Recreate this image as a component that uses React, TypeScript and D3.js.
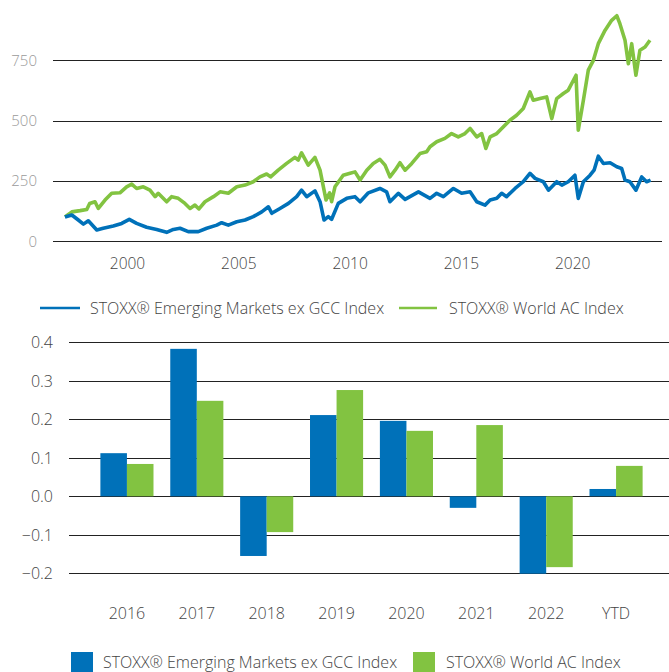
import React from "react";
import * as d3 from "d3";

const seriesNames = ["STOXX® Emerging Markets ex GCC Index", "STOXX® World AC Index"];
const colors = ["#0071B9", "#82C341"];

// Line chart data: [decimal year, index level]
const emergingLine: [number, number][] = [
  [1997.19, 100], [1997.5, 108], [1997.79, 87], [1998.02, 70], [1998.24, 84], [1998.62, 46],
  [1998.91, 53], [1999.36, 62], [1999.74, 73], [2000.08, 90], [2000.41, 73], [2000.86, 57],
  [2001.31, 48], [2001.76, 36], [2002.06, 48], [2002.36, 53], [2002.73, 39], [2003.18, 39],
  [2003.56, 53], [2004.01, 66], [2004.23, 76], [2004.53, 66], [2004.91, 80], [2005.28, 87],
  [2005.65, 101], [2006.03, 121], [2006.33, 142], [2006.48, 115], [2006.85, 135], [2007.23, 156],
  [2007.6, 184], [2007.82, 211], [2008.05, 184], [2008.42, 208], [2008.65, 163], [2008.83, 87],
  [2009.02, 101], [2009.17, 90], [2009.47, 156], [2009.85, 177], [2010.22, 184], [2010.45, 163],
  [2010.82, 200], [2011.34, 218], [2011.64, 204], [2011.79, 163], [2012.17, 198], [2012.47, 173],
  [2013.07, 204], [2013.59, 177], [2013.89, 198], [2014.19, 184], [2014.64, 218], [2015.01, 198],
  [2015.39, 204], [2015.69, 163], [2016.06, 149], [2016.29, 170], [2016.59, 177], [2016.81, 198],
  [2017.03, 184], [2017.41, 218], [2017.78, 246], [2018.08, 281], [2018.31, 260], [2018.68, 246],
  [2018.91, 211], [2019.28, 246], [2019.51, 232], [2019.8, 246], [2020.1, 273], [2020.25, 177],
  [2020.48, 246], [2020.78, 273], [2020.96, 294], [2021.15, 352], [2021.38, 322], [2021.68, 325],
  [2021.98, 308], [2022.2, 301], [2022.35, 253], [2022.57, 246], [2022.84, 211], [2023.1, 266],
  [2023.32, 246], [2023.5, 253],
];

const worldLine: [number, number][] = [
  [1997.19, 100], [1997.5, 121], [1997.87, 126], [1998.17, 131], [1998.3, 156], [1998.54, 163],
  [1998.69, 135], [1998.99, 170], [1999.29, 198], [1999.66, 200], [1999.96, 225], [2000.19, 236],
  [2000.41, 218], [2000.71, 225], [2001.01, 211], [2001.24, 184], [2001.38, 198], [2001.76, 163],
  [2001.98, 184], [2002.28, 177], [2002.58, 156], [2002.81, 135], [2003.03, 149], [2003.21, 133],
  [2003.48, 163], [2003.86, 184], [2004.16, 204], [2004.53, 198], [2004.91, 225], [2005.28, 232],
  [2005.65, 246], [2005.95, 266], [2006.25, 278], [2006.43, 266], [2006.77, 294], [2007.15, 322],
  [2007.52, 347], [2007.67, 336], [2007.82, 366], [2008.12, 315], [2008.42, 347], [2008.65, 294],
  [2008.8, 225], [2008.92, 170], [2009.08, 200], [2009.17, 163], [2009.32, 225], [2009.69, 273],
  [2010.0, 281], [2010.22, 287], [2010.45, 253], [2010.75, 294], [2011.04, 322], [2011.34, 339],
  [2011.57, 315], [2011.79, 266], [2012.02, 294], [2012.24, 325], [2012.47, 294], [2012.77, 322],
  [2013.14, 363], [2013.44, 370], [2013.59, 391], [2013.89, 412], [2014.26, 426], [2014.56, 446],
  [2014.86, 432], [2015.16, 446], [2015.39, 467], [2015.69, 432], [2015.91, 446], [2016.1, 384],
  [2016.29, 432], [2016.59, 446], [2016.81, 467], [2017.18, 501], [2017.48, 522], [2017.78, 550],
  [2018.08, 619], [2018.23, 584], [2018.53, 591], [2018.83, 598], [2019.06, 508], [2019.28, 591],
  [2019.58, 612], [2019.8, 626], [2020.15, 688], [2020.25, 460], [2020.48, 584], [2020.7, 709],
  [2020.93, 750], [2021.15, 819], [2021.45, 874], [2021.75, 916], [2021.98, 935], [2022.12, 902],
  [2022.35, 833], [2022.5, 736], [2022.65, 819], [2022.84, 688], [2023.02, 792], [2023.25, 805],
  [2023.47, 833],
];

const lineYTicks = [0, 250, 500, 750];
const lineXTicks = [2000, 2005, 2010, 2015, 2020];

// Bar chart data
const barCategories = ["2016", "2017", "2018", "2019", "2020", "2021", "2022", "YTD"];
const emergingReturns = [0.112, 0.383, -0.155, 0.211, 0.196, -0.030, -0.201, 0.019];
const worldReturns = [0.084, 0.248, -0.093, 0.276, 0.170, 0.185, -0.184, 0.079];
const barYTicks = [-0.2, -0.1, 0.0, 0.1, 0.2, 0.3, 0.4];

const FONT = "'Open Sans', 'Noto Sans', sans-serif";

export default function App() {
  // Line chart scales
  const x = d3.scaleLinear().domain([2000, 2020]).range([127.5, 572.7]);
  const y = d3.scaleLinear().domain([0, 750]).range([241, 60.3]);
  const line = d3
    .line<[number, number]>()
    .x((d) => x(d[0]))
    .y((d) => y(d[1]))
    .curve(d3.curveLinear);

  // Bar chart scales
  const xb = d3.scaleBand<string>().domain(barCategories).range([92, 651]).paddingInner(0.24).paddingOuter(0.12);
  const xs = d3.scaleBand<number>().domain([0, 1]).range([0, xb.bandwidth()]);
  const yb = d3.scaleLinear().domain([-0.2, 0.4]).range([573.3, 342.3]);
  const fmt = d3.format(".1f");
  const allReturns = [emergingReturns, worldReturns];

  return (
    <svg
      width={669}
      height={672}
      style={{ position: "absolute", left: 0, top: 0, background: "#fff" }}
      fontFamily={FONT}
    >
      {/* Line chart grid */}
      {lineYTicks.map((t) => (
        <g key={"ly" + t}>
          <line x1={53} x2={662} y1={Math.round(y(t)) + 0.5} y2={Math.round(y(t)) + 0.5} stroke="#222" strokeWidth={1} />
          <text x={37} y={y(t) + 5.5} textAnchor="end" fontSize={15} fontWeight={300} fill="#9a9a9a">
            {t}
          </text>
        </g>
      ))}
      {lineXTicks.map((t) => (
        <text key={"lx" + t} x={x(t)} y={269} textAnchor="middle" fontSize={15.5} fontWeight={300} fill="#444">
          {t}
        </text>
      ))}
      <path d={line(worldLine) || ""} fill="none" stroke={colors[1]} strokeWidth={3.6} strokeLinejoin="round" />
      <path d={line(emergingLine) || ""} fill="none" stroke={colors[0]} strokeWidth={3.6} strokeLinejoin="round" />

      {/* Line legend */}
      <line x1={40} x2={80} y1={308} y2={308} stroke={colors[0]} strokeWidth={2.5} />
      <text x={90} y={314} fontSize={16} fontWeight={300} fill="#444">{seriesNames[0]}</text>
      <line x1={399} x2={437} y1={308} y2={308} stroke={colors[1]} strokeWidth={2.5} />
      <text x={449} y={314} fontSize={16} fontWeight={300} fill="#444">{seriesNames[1]}</text>

      {/* Bar chart grid */}
      {barYTicks.map((t) => (
        <g key={"by" + t}>
          <line x1={69} x2={669} y1={Math.round(yb(t)) + 0.5} y2={Math.round(yb(t)) + 0.5} stroke="#222" strokeWidth={1} />
          <text x={53} y={yb(t) + 6} textAnchor="end" fontSize={16} fontWeight={300} fill="#444">
            {fmt(t)}
          </text>
        </g>
      ))}
      {barCategories.map((c, i) => (
        <g key={"bar" + c}>
          {allReturns.map((vals, s) => {
            const v = vals[i];
            const y0 = yb(Math.max(0, v));
            const h = Math.abs(yb(v) - yb(0));
            return (
              <rect
                key={s}
                x={(xb(c) || 0) + (xs(s) || 0)}
                y={y0}
                width={xs.bandwidth()}
                height={h}
                fill={colors[s]}
              />
            );
          })}
          <text x={(xb(c) || 0) + xb.bandwidth() / 2} y={619} textAnchor="middle" fontSize={16} fontWeight={300} fill="#444">
            {c}
          </text>
        </g>
      ))}

      {/* Bar legend */}
      <rect x={71} y={652} width={22} height={22} fill={colors[0]} />
      <text x={103} y={668} fontSize={16} fontWeight={300} fill="#444">{seriesNames[0]}</text>
      <rect x={413} y={652} width={22} height={22} fill={colors[1]} />
      <text x={446} y={668} fontSize={16} fontWeight={300} fill="#444">{seriesNames[1]}</text>
    </svg>
  );
}
